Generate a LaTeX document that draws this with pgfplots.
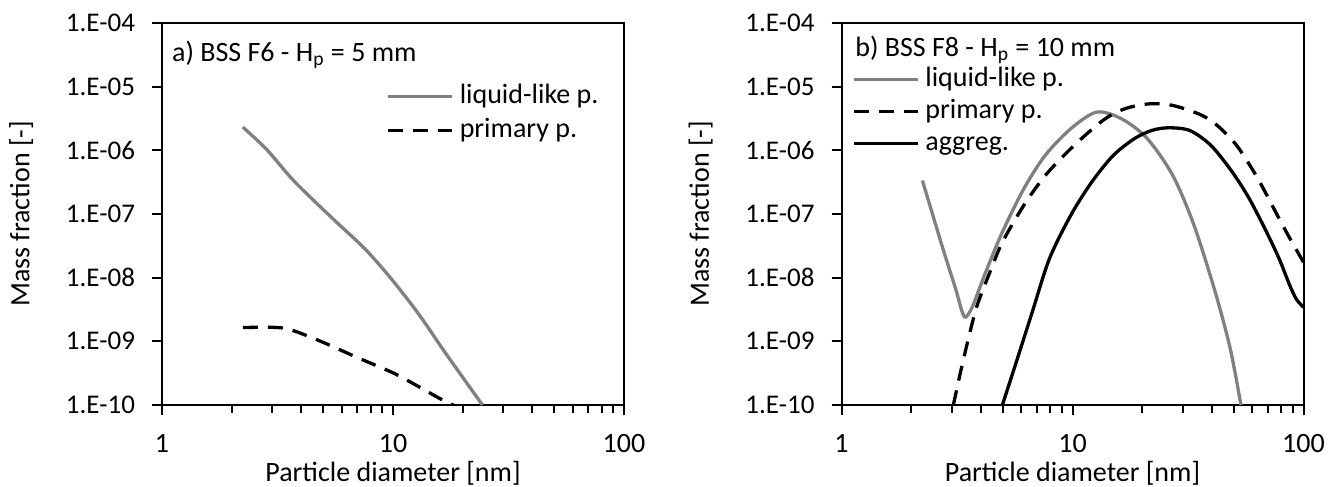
\documentclass[border=0pt]{standalone}
\usepackage{fontspec}
\setmainfont{Carlito}
\usepackage{pgfplots}
\pgfplotsset{compat=1.18}
\definecolor{lgray}{gray}{0.5}
\newcommand\tk{\fontsize{13.5}{15}\selectfont}
\newcommand\lb{\fontsize{14}{16}\selectfont}
\pgfplotsset{
  legend image code/.code={\draw[#1] (0pt,0pt) -- (32pt,0pt);},
  every axis/.append style={
    scale only axis, width=231pt, height=191pt,
    xmin=1, xmax=100, ymin=1e-10, ymax=1e-4,
    axis line style={line width=1pt},
    tick align=outside, tick pos=left,
    major tick length=5pt, minor tick length=4pt,
    xtick={1,10,100}, xticklabels={\lb 1,\lb 10,\lb 100},
    minor xtick={2,3,4,5,6,7,8,9,20,30,40,50,60,70,80,90},
    ytick={1e-10,1e-9,1e-8,1e-7,1e-6,1e-5,1e-4},
    yticklabels={\tk 1.E-10,\tk 1.E-09,\tk 1.E-08,\tk 1.E-07,\tk 1.E-06,\tk 1.E-05,\tk 1.E-04},
    yminorticks=false,
    yticklabel style={xshift=-5pt},
    xticklabel style={yshift=-6pt},
    xlabel={\lb Particle diameter [nm]},
    ylabel={\lb Mass fraction [-]},
    every axis x label/.style={at={(axis description cs:0.5,-0.178)}, anchor=center},
    every axis y label/.style={at={(axis description cs:-0.305,0.5)}, anchor=center, rotate=90},
    legend cell align=left,
    legend style={draw=none, fill=none, anchor=north west, inner sep=0pt,
      nodes={inner sep=0pt, text height=10pt, text depth=3pt}, column sep=3pt},
  },
  every tick/.style={black, line width=1pt},
}
\begin{document}
\begin{tikzpicture}[font=\tk]
\useasboundingbox (0pt,0pt) rectangle (664pt,243.5pt);
\begin{loglogaxis}[at={(81pt,41pt)}, anchor=south west,
  legend style={at={(0.485,0.843)}, row sep=4pt}]
\addplot[lgray, line width=1.65pt, smooth] coordinates {
(2.24,2.31e-6) (2.84,1.03e-6) (3.73,3.29e-7) (5.43,8.75e-8) (7.59,2.79e-8)
(10,8.9e-9) (13.1,2.5e-9) (16.8,6.7e-10) (24.4,1.0e-10)};
\addlegendentry{\lb liquid-like p.}
\addplot[black, line width=1.65pt, dash pattern=on 7.5pt off 5pt, smooth] coordinates {
(2.24,1.65e-9) (3.16,1.65e-9) (3.73,1.46e-9) (5.0,9.6e-10) (6.98,5.6e-10)
(10,3.2e-10) (13.1,1.89e-10) (16.1,1.24e-10) (19.0,0.93e-10)};
\addlegendentry{\lb primary p.}
\node[anchor=base west, inner sep=0pt]
  at (axis description cs:0.021,0.899) {\lb a) BSS F6 - H\textsubscript{p} = 5 mm};
\end{loglogaxis}
\begin{loglogaxis}[at={(420.75pt,41pt)}, anchor=south west,
  legend style={at={(0.022,0.887)}, row sep=3pt}]
\addplot[lgray, line width=1.65pt, smooth] coordinates {
(2.24,3.36e-7) (2.75,2.83e-8) (3.12,6.65e-9) (3.32,3.0e-9) (3.45,2.4e-9)
(3.70,3.6e-9) (4.20,1.2e-8) (4.97,5.2e-8) (6.15,2.48e-7) (7.61,8.3e-7)
(9.82,2.18e-6) (12.7,3.98e-6) (16.3,3.13e-6) (21.1,1.52e-6) (27.2,4.0e-7)
(33.6,6.6e-8) (41.5,5.9e-9) (48.2,7.6e-10) (53.6,1.0e-10)};
\addlegendentry{\lb liquid-like p.}
\addplot[black, line width=1.65pt, dash pattern=on 7.5pt off 5pt, smooth] coordinates {
(3.05,1.0e-10) (3.25,2.9e-10) (3.54,1.09e-9) (3.86,3.6e-9) (4.38,1.2e-8)
(4.97,3.6e-8) (6.15,1.36e-7) (7.61,4.0e-7) (9.82,1.06e-6) (12.7,2.46e-6)
(15.0,3.75e-6) (17.8,4.78e-6) (22.0,5.4e-6) (27.2,5.07e-6) (35.1,3.75e-6)
(41.5,2.61e-6) (51.4,1.19e-6) (63.5,3.57e-7) (78.5,8.4e-8) (89.2,3.6e-8)
(100,1.75e-8)};
\addlegendentry{\lb primary p.}
\addplot[black, line width=1.65pt, smooth] coordinates {
(4.97,1.0e-10) (5.65,4.2e-10) (6.69,2.86e-9) (7.94,1.97e-8) (9.82,9.5e-8)
(12.1,3.16e-7) (15.0,8.3e-7) (18.5,1.52e-6) (22.0,2.05e-6) (26.0,2.26e-6)
(32.2,2.05e-6) (39.8,1.19e-6) (49.2,4.54e-7) (58.3,1.73e-7) (69.2,5.2e-8)
(78.5,1.97e-8) (87.3,7.5e-9) (93.1,4.6e-9) (100,3.43e-9)};
\addlegendentry{\lb aggreg.}
\node[anchor=base west, inner sep=0pt]
  at (axis description cs:0.029,0.912) {\lb b) BSS F8 - H\textsubscript{p} = 10 mm};
\end{loglogaxis}
\end{tikzpicture}
\end{document}
